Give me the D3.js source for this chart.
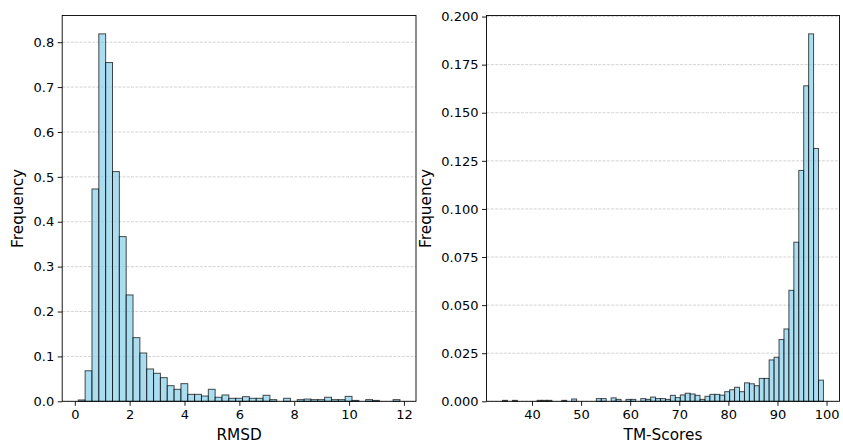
<!DOCTYPE html>
<html>
<head>
<meta charset="utf-8">
<script src="https://cdn.jsdelivr.net/npm/d3@7"></script>
<style>
  html, body { margin: 0; padding: 0; background: #ffffff; }
  svg { display: block; font-family: "DejaVu Sans", sans-serif; }
</style>
</head>
<body>
<svg id="chart" width="843" height="443"></svg>
<script>
// ---------- data ----------
const rmsdBinStart = 0.127;
const rmsdBinWidth = 0.2495;
const rmsdFreq = [
  0.003, 0.068, 0.473, 0.8185, 0.7546, 0.5117, 0.3669, 0.2369, 0.1418, 0.1076,
  0.072, 0.0624, 0.0527, 0.0348, 0.0267, 0.0393, 0.0155, 0.0155, 0.0118, 0.0267,
  0.009, 0.0141, 0.0067, 0.0067, 0.0103, 0.0067, 0.0067, 0.0134, 0.0037, 0,
  0.0067, 0, 0.0037, 0.005, 0.0037, 0.0037, 0.009, 0.0037, 0.0037, 0.011,
  0.002, 0, 0.0037, 0.002, 0, 0, 0.0037
];
const tmBinStart = 34.0;
const tmBinWidth = 1.0057;
const tmFreq = [
  0.0005, 0, 0.0005, 0, 0, 0, 0, 0.0005, 0.0005, 0.0005,
  0, 0, 0.0005, 0, 0.0012, 0, 0, 0, 0, 0.0014,
  0.0014, 0, 0.0018, 0.001, 0, 0.001, 0.001, 0, 0.0014, 0.001,
  0.0022, 0.0014, 0.0014, 0.001, 0.0031, 0.0019, 0.0033, 0.0042, 0.0038, 0.0031,
  0.001, 0.0026, 0.0036, 0.0036, 0.0032, 0.005, 0.006, 0.0073, 0.005, 0.0096,
  0.0091, 0.0081, 0.0119, 0.0119, 0.0215, 0.0229, 0.0321, 0.0376, 0.0577, 0.0827,
  0.12, 0.164, 0.191, 0.1314, 0.011
];
const rmsdXTicks = [0, 2, 4, 6, 8, 10, 12];
const rmsdYTicks = [0, 0.1, 0.2, 0.3, 0.4, 0.5, 0.6, 0.7, 0.8];
const tmXTicks = [40, 50, 60, 70, 80, 90, 100];
const tmYTicks = [0, 0.025, 0.05, 0.075, 0.1, 0.125, 0.15, 0.175, 0.2];

const panels = [
  { start: rmsdBinStart, width: rmsdBinWidth, freq: rmsdFreq, xTicks: rmsdXTicks, yTicks: rmsdYTicks,
    yFmt: d3.format(".1f"), xLabel: "RMSD", yLabel: "Frequency",
    box: { left: 62.2, right: 416, top: 15.5, bottom: 401.3 }, yLabelX: 18 },
  { start: tmBinStart, width: tmBinWidth, freq: tmFreq, xTicks: tmXTicks, yTicks: tmYTicks,
    yFmt: d3.format(".3f"), xLabel: "TM-Scores", yLabel: "Frequency",
    box: { left: 486.5, right: 839.5, top: 15.5, bottom: 401.3 }, yLabelX: 426 }
];

const svg = d3.select("#chart");
const tickFont = 13;
const labelFont = 15.3;

panels.forEach(p => {
  const bins = p.freq.map((f, i) => ({ x0: p.start + i * p.width, x1: p.start + (i + 1) * p.width, f }));
  const dMin = bins[0].x0, dMax = bins[bins.length - 1].x1;
  const pad = (dMax - dMin) * 0.05;
  const x = d3.scaleLinear().domain([dMin - pad, dMax + pad]).range([p.box.left, p.box.right]);
  const y = d3.scaleLinear().domain([0, d3.max(p.freq) * 1.05]).range([p.box.bottom, p.box.top]);

  const g = svg.append("g");

  // grid
  g.append("g").selectAll("line").data(p.yTicks).join("line")
    .attr("x1", p.box.left).attr("x2", p.box.right)
    .attr("y1", d => y(d)).attr("y2", d => y(d))
    .attr("stroke", "#b0b0b0").attr("stroke-opacity", 0.7)
    .attr("stroke-width", 0.8).attr("stroke-dasharray", "3,1.3");

  // bars
  g.append("g").selectAll("rect").data(bins.filter(b => b.f > 0)).join("rect")
    .attr("x", d => x(d.x0)).attr("width", d => x(d.x1) - x(d.x0))
    .attr("y", d => y(d.f)).attr("height", d => y(0) - y(d.f))
    .attr("fill", "skyblue").attr("fill-opacity", 0.7)
    .attr("stroke", "black").attr("stroke-opacity", 0.7).attr("stroke-width", 1);

  // axes
  const xAxis = d3.axisBottom(x).tickValues(p.xTicks).tickSizeOuter(0).tickSize(4.5).tickPadding(3.5)
    .tickFormat(d3.format("d"));
  const yAxis = d3.axisLeft(y).tickValues(p.yTicks).tickSizeOuter(0).tickSize(4.5).tickPadding(3.5)
    .tickFormat(p.yFmt);
  const gx = g.append("g").attr("transform", `translate(0,${p.box.bottom})`).call(xAxis);
  const gy = g.append("g").attr("transform", `translate(${p.box.left},0)`).call(yAxis);
  [gx, gy].forEach(a => {
    a.select(".domain").remove();
    a.selectAll(".tick line").attr("stroke", "black").attr("stroke-width", 0.9);
    a.selectAll(".tick text").attr("fill", "black").style("font-size", tickFont + "px")
      .style("font-family", "DejaVu Sans");
  });

  // spines
  g.append("rect")
    .attr("x", p.box.left).attr("y", p.box.top)
    .attr("width", p.box.right - p.box.left).attr("height", p.box.bottom - p.box.top)
    .attr("fill", "none").attr("stroke", "black").attr("stroke-width", 0.9);

  // labels
  g.append("text").attr("x", (p.box.left + p.box.right) / 2).attr("y", 439.5)
    .attr("text-anchor", "middle").style("font-size", labelFont + "px").text(p.xLabel);
  g.append("text").attr("transform", `translate(${p.yLabelX},${(p.box.top + p.box.bottom) / 2}) rotate(-90)`)
    .attr("text-anchor", "middle").attr("dy", "0.35em").style("font-size", labelFont + "px").text(p.yLabel);
});
</script>
</body>
</html>
